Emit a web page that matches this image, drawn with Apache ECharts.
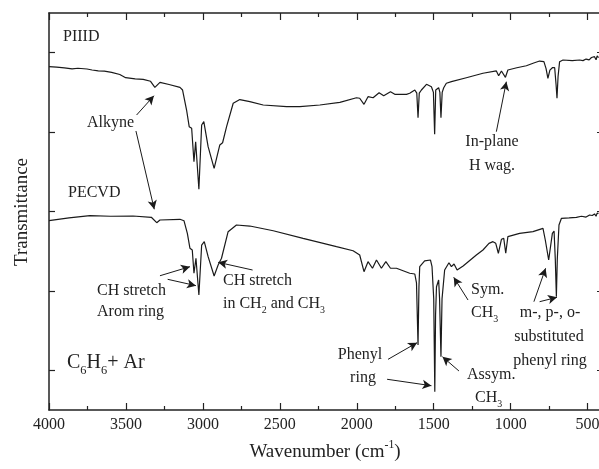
<!DOCTYPE html>
<html>
<head>
<meta charset="utf-8">
<script src="https://cdn.jsdelivr.net/npm/echarts@6/dist/echarts.min.js"></script>
<style>
  html, body { margin: 0; padding: 0; background: #fff; }
  #chart { width: 599px; height: 469px; }
</style>
</head>
<body>
<div id="chart"></div>
<script>
// PIIID spectrum (upper trace), wavenumber / transmittance (arb. units)
var topWn = [4000, 3950, 3900, 3850, 3812, 3753, 3720, 3680, 3640, 3593, 3540, 3502, 3440, 3388, 3340, 3312, 3279,
  3220, 3149, 3132, 3106, 3089, 3073, 3058, 3047, 3041, 3026, 3008, 2994, 2966, 2927, 2890, 2872, 2846, 2803, 2760,
  2695, 2608, 2456, 2370, 2240, 2110, 2002, 1981, 1953, 1927, 1894, 1855, 1825, 1781, 1753, 1677, 1656, 1623, 1610,
  1602, 1594, 1580, 1547, 1515, 1502, 1494, 1487, 1479, 1468, 1460, 1453, 1445, 1435, 1418, 1385, 1288, 1180, 1093,
  1078, 1060, 1034, 1018, 960, 898, 850, 812, 784, 770, 758, 745, 729, 714, 705, 699, 692, 682, 660, 600, 552, 530,
  510, 490, 475, 466, 455, 445, 438, 429];
var topT = [4.324, 4.318, 4.31, 4.296, 4.304, 4.295, 4.282, 4.27, 4.268, 4.253, 4.225, 4.185, 4.17, 4.165, 4.14,
  4.064, 4.127, 4.10, 4.064, 4.030, 3.778, 3.568, 3.548, 3.127, 3.379, 3.366, 2.780, 3.589, 3.631, 3.316, 3.044,
  3.338, 3.366, 3.568, 3.863, 3.91, 3.883, 3.841, 3.820, 3.820, 3.841, 3.875, 3.933, 3.926, 3.850, 3.946, 3.933,
  3.996, 3.958, 4.009, 3.976, 3.976, 3.989, 4.030, 3.99, 3.681, 3.99, 4.030, 4.102, 4.072, 4.0, 3.472, 4.03, 4.052,
  4.059, 4.0, 3.681, 4.0, 4.059, 4.115, 4.135, 4.185, 4.241, 4.270, 4.210, 4.270, 4.190, 4.282, 4.31, 4.336, 4.37,
  4.395, 4.387, 4.30, 4.178, 4.28, 4.311, 4.311, 4.10, 3.926, 4.20, 4.387, 4.408, 4.40, 4.408, 4.40, 4.42, 4.41,
  4.44, 4.43, 4.45, 4.41, 4.46, 4.437];

// PECVD spectrum (lower trace)
var botWn = [4000, 3870, 3734, 3600, 3454, 3335, 3300, 3279, 3149, 3123, 3101, 3084, 3069, 3058, 3045, 3026, 3008,
  2991, 2966, 2927, 2901, 2879, 2836, 2782, 2695, 2543, 2349, 2132, 2024, 1981, 1953, 1927, 1898, 1872, 1840, 1811,
  1781, 1742, 1699, 1656, 1623, 1612, 1602, 1596, 1591, 1559, 1521, 1511, 1500, 1493, 1488, 1482, 1468, 1462, 1453,
  1446, 1429, 1401, 1385, 1368, 1348, 1309, 1223, 1180, 1141, 1115, 1097, 1080, 1060, 1045, 1032, 1018, 942, 855,
  790, 775, 753, 729, 718, 710, 703, 697, 686, 670, 620, 573, 540, 510, 487, 470, 455, 445, 438, 429];
var botT = [2.384, 2.42, 2.447, 2.44, 2.443, 2.427, 2.359, 2.393, 2.402, 2.384, 2.225, 2.036, 2.015, 1.722, 1.911,
  1.448, 2.078, 2.120, 1.931, 1.688, 1.826, 1.911, 2.246, 2.330, 2.317, 2.258, 2.162, 2.057, 2.006, 1.952, 1.742,
  1.868, 1.785, 1.889, 1.785, 1.868, 1.785, 1.785, 1.754, 1.722, 1.713, 1.60, 0.819, 1.55, 1.805, 1.877, 1.889,
  1.805, 1.40, 0.230, 1.20, 1.553, 1.637, 1.40, 0.671, 1.40, 1.763, 1.855, 1.805, 1.839, 1.763, 1.814, 1.952, 2.015,
  2.099, 2.120, 2.099, 1.974, 2.150, 2.162, 1.974, 2.183, 2.225, 2.246, 2.288, 2.141, 1.889, 2.225, 2.254, 1.90,
  1.427, 1.90, 2.330, 2.414, 2.42, 2.427, 2.44, 2.43, 2.456, 2.45, 2.47, 2.44, 2.48, 2.477];

var xMajor = [500, 1000, 1500, 2000, 2500, 3000, 3500, 4000];
var xMinor = [750, 1250, 1750, 2250, 2750, 3250, 3750];
var yTicks = [0.5, 1.5, 2.5, 3.5, 4.5];

// annotation arrows: [tail wavenumber, tail T, head wavenumber, head T]
var arrows = [
  [3431, 3.715, 3318, 3.958],
  [3435, 3.514, 3316, 2.528],
  [3279, 1.691, 3084, 1.805],
  [3229, 1.646, 3045, 1.566],
  [2677, 1.763, 2901, 1.860],
  [1797, 0.638, 1608, 0.848],
  [1803, 0.387, 1515, 0.306],
  [1336, 0.491, 1443, 0.671],
  [1277, 1.385, 1370, 1.671],
  [849, 1.364, 773, 1.785],
  [812, 1.364, 699, 1.419],
  [1093, 3.505, 1028, 4.135]
];

var INK = '#222';
var FONT = 'Liberation Serif';

function zip(a, b) {
  var out = [];
  for (var i = 0; i < a.length; i++) out.push([a[i], b[i]]);
  return out;
}

// 文字测量，用来拼上下标
var measureCtx = document.createElement('canvas').getContext('2d');
function textWidth(t, size) {
  measureCtx.font = size + 'px "' + FONT + '"';
  return measureCtx.measureText(t).width;
}

// parts: [text, 0 normal | 1 sub | 2 sup]
function label(x, y, parts, size, align) {
  var pieces = [];
  var total = 0;
  parts.forEach(function (p) {
    var s = p[1] ? size * 0.62 : size;
    var w = textWidth(p[0], s);
    pieces.push({ t: p[0], s: s, w: w, k: p[1] });
    total += w;
  });
  var cx = x;
  if (align === 'center') cx = x - total / 2;
  if (align === 'right') cx = x - total;
  var els = [];
  pieces.forEach(function (p) {
    var dy = p.k === 1 ? size * 0.38 : p.k === 2 ? -size * 0.38 : 0;
    els.push({
      type: 'text',
      x: cx,
      y: y + dy,
      silent: true,
      style: { text: p.t, fontSize: p.s, fontFamily: FONT, fill: INK, align: 'left', verticalAlign: 'middle' }
    });
    cx += p.w;
  });
  return els;
}

var graphics = [].concat(
  label(63, 37, [['PIIID', 0]], 16),
  label(68, 193, [['PECVD', 0]], 16),
  label(87, 123, [['Alkyne', 0]], 16),
  label(492, 142, [['In-plane', 0]], 16, 'center'),
  label(492, 166, [['H wag.', 0]], 16, 'center'),
  label(97, 291, [['CH stretch', 0]], 16),
  label(97, 312, [['Arom ring', 0]], 16),
  label(223, 281, [['CH stretch', 0]], 16),
  label(223, 304, [['in CH', 0], ['2', 1], [' and CH', 0], ['3', 1]], 16),
  label(67, 363, [['C', 0], ['6', 1], ['H', 0], ['6', 1], ['+ Ar', 0]], 20),
  label(360, 355, [['Phenyl', 0]], 16, 'center'),
  label(363, 378, [['ring', 0]], 16, 'center'),
  label(471, 290, [['Sym.', 0]], 16),
  label(471, 313, [['CH', 0], ['3', 1]], 16),
  label(467, 375, [['Assym.', 0]], 16),
  label(475, 398, [['CH', 0], ['3', 1]], 16),
  label(550, 313, [['m-, p-, o-', 0]], 16, 'center'),
  label(549, 337, [['substituted', 0]], 16, 'center'),
  label(550, 361, [['phenyl ring', 0]], 16, 'center'),
  label(325, 452, [['Wavenumber (cm', 0], ['-1', 2], [')', 0]], 19, 'center'),
  [{
    type: 'text', x: 22, y: 212, rotation: Math.PI / 2, silent: true,
    style: { text: 'Transmittance', fontSize: 19, fontFamily: FONT, fill: INK, align: 'center', verticalAlign: 'middle' }
  }]
);

var axisLine = { show: true, onZero: false, lineStyle: { color: INK, width: 1.5 } };

function xAx(pos, values, len, withLine, withLabel) {
  return {
    type: 'value', position: pos, min: 400, max: 4000, inverse: true,
    axisLine: withLine ? axisLine : { show: false, onZero: false },
    axisTick: { show: true, inside: true, length: len, customValues: values, lineStyle: { color: INK, width: 1.2 } },
    axisLabel: withLabel
      ? {
          show: true, customValues: xMajor, fontFamily: FONT, fontSize: 16, color: INK, margin: 7,
          formatter: function (v) { return String(v); }
        }
      : { show: false },
    splitLine: { show: false }
  };
}

function yAx(pos) {
  return {
    type: 'value', position: pos, min: 0, max: 5,
    axisLine: axisLine,
    axisTick: { show: true, inside: true, length: 6, customValues: yTicks, lineStyle: { color: INK, width: 1.2 } },
    axisLabel: { show: false },
    splitLine: { show: false }
  };
}

var chart = echarts.init(document.getElementById('chart'));
chart.setOption({
  animation: false,
  backgroundColor: '#fff',
  grid: { left: 49, top: 13, width: 554, height: 397, containLabel: false, outerBoundsMode: 'none' },
  xAxis: [
    xAx('bottom', xMajor, 7, true, true),
    xAx('bottom', xMinor, 4, false, false),
    xAx('top', xMajor, 7, true, false),
    xAx('top', xMinor, 4, false, false)
  ],
  yAxis: [yAx('left'), yAx('right')],
  series: [
    {
      name: 'PIIID', type: 'line', data: zip(topWn, topT), showSymbol: false,
      lineStyle: { color: '#1a1a1a', width: 1.2 },
      markLine: {
        silent: true,
        symbol: ['none', 'arrow'],
        symbolSize: [7, 9],
        label: { show: false },
        lineStyle: { color: '#1a1a1a', width: 1, type: 'solid' },
        data: arrows.map(function (a) {
          return [{ coord: [a[0], a[1]] }, { coord: [a[2], a[3]] }];
        })
      }
    },
    {
      name: 'PECVD', type: 'line', data: zip(botWn, botT), showSymbol: false,
      lineStyle: { color: '#1a1a1a', width: 1.2 }
    }
  ],
  graphic: graphics
});
</script>
</body>
</html>
